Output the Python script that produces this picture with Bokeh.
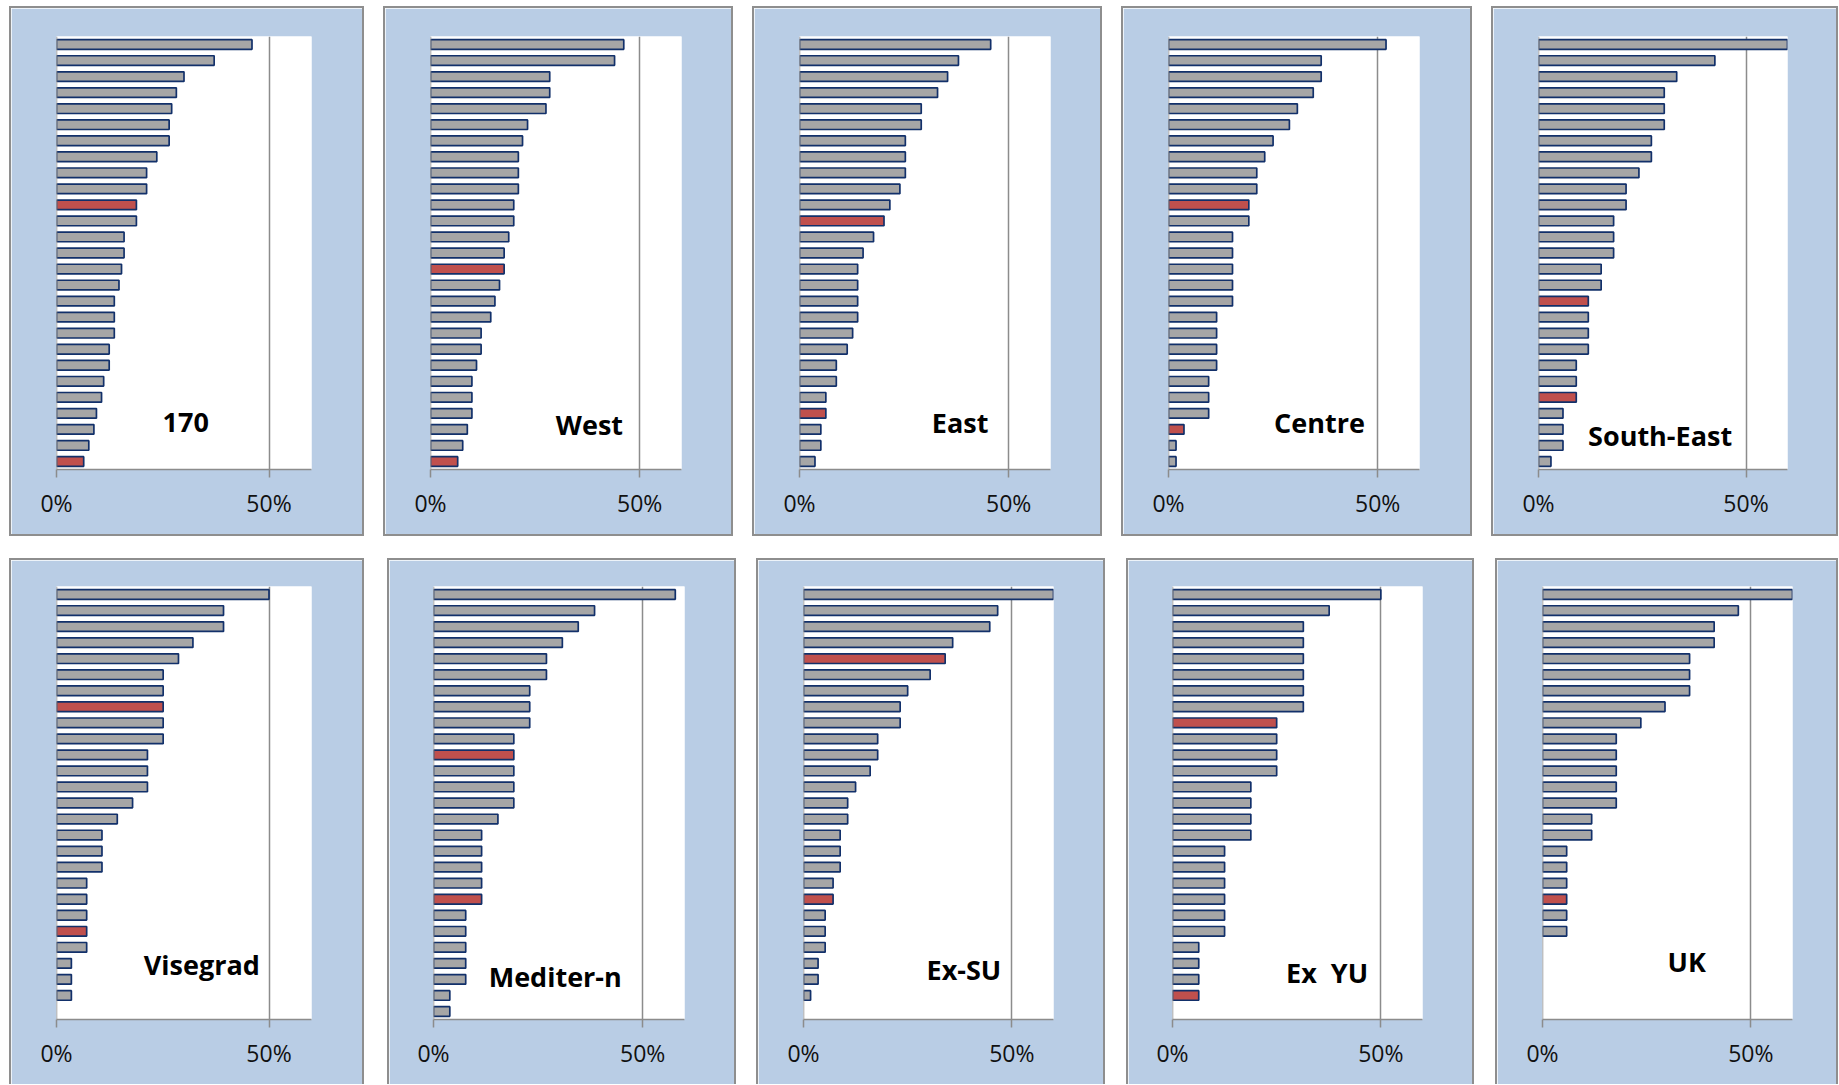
from bokeh.plotting import figure
from bokeh.models import Range1d, FixedTicker, Span, Label, ColumnDataSource, Spacer
from bokeh.layouts import row, column
from bokeh.embed import file_html
from bokeh.resources import INLINE

# ---------------- data (share, %), one bar per slot, top to bottom ----------------
panel_names = ["170", "West", "East", "Centre", "South-East",
               "Visegrad", "Mediter-n", "Ex-SU", "Ex\u00a0 YU", "UK"]

vals_170 = [46.0, 37.1, 30.0, 28.2, 27.1, 26.5, 26.5, 23.6, 21.2, 21.2, 18.8, 18.8, 15.9, 15.9,
            15.3, 14.7, 13.6, 13.6, 13.6, 12.4, 12.4, 11.1, 10.6, 9.4, 8.8, 7.6, 6.4]
vals_west = [46.2, 44.0, 28.5, 28.5, 27.6, 23.2, 22.0, 21.0, 21.0, 21.0, 19.9, 19.9, 18.7, 17.6,
             17.6, 16.5, 15.4, 14.4, 12.1, 12.1, 11.0, 9.9, 9.9, 9.9, 8.8, 7.7, 6.5]
vals_east = [45.7, 38.0, 35.4, 33.0, 29.1, 29.1, 25.3, 25.3, 25.3, 24.0, 21.6, 20.2, 17.7, 15.2,
             13.9, 13.9, 13.9, 13.9, 12.7, 11.4, 8.8, 8.8, 6.3, 6.3, 5.1, 5.1, 3.7]
vals_centre = [52.0, 36.5, 36.5, 34.6, 30.8, 28.9, 25.0, 23.0, 21.1, 21.1, 19.2, 19.2, 15.3, 15.3,
               15.3, 15.3, 15.3, 11.5, 11.5, 11.5, 11.5, 9.6, 9.6, 9.6, 3.7, 1.8, 1.8]
vals_southeast = [60.3, 42.5, 33.3, 30.3, 30.3, 30.3, 27.2, 27.2, 24.2, 21.1, 21.1, 18.1, 18.1, 18.1,
                  15.1, 15.1, 12.0, 12.0, 12.0, 12.0, 9.1, 9.1, 9.1, 5.9, 5.9, 5.9, 3.0]
vals_visegrad = [50.0, 39.3, 39.3, 32.1, 28.7, 25.1, 25.1, 25.1, 25.1, 25.1, 21.4, 21.4, 21.4, 17.9,
                 14.3, 10.7, 10.7, 10.7, 7.1, 7.1, 7.1, 7.1, 7.1, 3.5, 3.5, 3.5]
vals_mediter = [57.8, 38.5, 34.6, 30.8, 27.0, 27.0, 23.0, 23.0, 23.0, 19.2, 19.2, 19.2, 19.2, 19.2,
                15.4, 11.5, 11.5, 11.5, 11.5, 11.5, 7.7, 7.7, 7.7, 7.7, 7.7, 3.9, 3.9]
vals_exsu = [62.0, 46.6, 44.7, 35.8, 34.0, 30.4, 25.0, 23.2, 23.2, 17.8, 17.8, 16.0, 12.5, 10.6,
             10.6, 8.8, 8.8, 8.8, 7.1, 7.1, 5.2, 5.2, 5.2, 3.5, 3.5, 1.7]
vals_exyu = [50.0, 37.6, 31.4, 31.4, 31.4, 31.4, 31.4, 31.4, 25.0, 25.0, 25.0, 25.0, 18.8, 18.8,
             18.8, 18.8, 12.5, 12.5, 12.5, 12.5, 12.5, 12.5, 6.3, 6.3, 6.3, 6.3]
vals_uk = [62.0, 47.0, 41.2, 41.2, 35.3, 35.3, 35.3, 29.4, 23.6, 17.7, 17.7, 17.7, 17.7, 17.7,
           11.8, 11.8, 5.8, 5.8, 5.8, 5.8, 5.8, 5.8]

# positions (0-based, from top) of the highlighted (red) bars
red_170 = [10, 26]
red_west = [14, 26]
red_east = [11, 23]
red_centre = [10, 24]
red_southeast = [16, 22]
red_visegrad = [7, 21]
red_mediter = [10, 19]
red_exsu = [4, 19]
red_exyu = [8, 25]
red_uk = [19]

tick_values = [0, 50]
tick_labels = ["0%", "50%"]

all_vals = [vals_170, vals_west, vals_east, vals_centre, vals_southeast,
            vals_visegrad, vals_mediter, vals_exsu, vals_exyu, vals_uk]
all_reds = [red_170, red_west, red_east, red_centre, red_southeast,
            red_visegrad, red_mediter, red_exsu, red_exyu, red_uk]

# ---------------- styling / layout ----------------
N_SLOTS = 27
PANEL_BG = "#B9CDE5"
GRAY = "#A6A6A6"
RED = "#C0504D"
NAVY = "#12306A"
AXIS_GRAY = "#8C8C8C"
BORDER_GRAY = "#8E8E8E"
BW = 2  # panel border width

# (outer panel width, frame left offset, frame width)
top_geo = [(355, 47, 255), (350, 47, 251), (350, 47, 251), (351, 47, 251), (347, 47, 249)]
bot_geo = [(355, 47, 255), (349, 46, 251), (349, 47, 250), (348, 46, 250), (343, 47, 250)]
top_gaps = [19, 19, 19, 19]
bot_gaps = [23, 20, 21, 21]
TOP_H, BOT_H = 530, 526
TOP_FRAME_TOP, BOT_FRAME_TOP, FRAME_H = 30, 28, 433

# label anchor in data units (x in %, y in slots)
label_pos = [(30.4, 23.6), (38.0, 23.7), (38.4, 23.6), (36.1, 23.6), (29.3, 24.4),
             (34.2, 23.1), (29.1, 23.8), (38.5, 23.4), (37.1, 23.6), (34.6, 22.9)]


def edge(w, h):
    return Spacer(width=w, height=h, styles={"background-color": BORDER_GRAY})


def make_panel(i, geo, outer_h, frame_top, bottom_border):
    outer_w, left, fw = geo
    w = outer_w - 2 * BW
    h = outer_h - BW - (BW if bottom_border else 0)
    ft = frame_top - BW
    fl = left - BW
    vals = all_vals[i]
    reds = all_reds[i]
    p = figure(width=w, height=h,
               x_range=Range1d(0, 60), y_range=Range1d(N_SLOTS - 0.5, -0.5),
               output_backend="svg", toolbar_location=None,
               y_axis_location=None,
               min_border_left=fl, min_border_right=w - fl - fw,
               min_border_top=ft, min_border_bottom=h - ft - FRAME_H)
    p.border_fill_color = PANEL_BG
    p.background_fill_color = "white"
    p.outline_line_color = None

    ys = list(range(len(vals)))
    colors = [RED if k in reds else GRAY for k in ys]
    src = ColumnDataSource(dict(y=ys, right=vals, color=colors))
    p.hbar(y="y", left=0, right="right", height=0.6, source=src,
           fill_color="color", line_color=NAVY, line_width=1.7)

    p.add_layout(Span(location=0, dimension="height", line_color=AXIS_GRAY, line_width=1.5))

    ax = p.xaxis[0]
    ax.ticker = FixedTicker(ticks=tick_values)
    ax.major_label_overrides = {v: t for v, t in zip(tick_values, tick_labels)}
    ax.minor_tick_line_color = None
    ax.major_tick_in = 0
    ax.major_tick_out = 8
    ax.major_tick_line_color = AXIS_GRAY
    ax.major_tick_line_width = 1.5
    ax.axis_line_color = AXIS_GRAY
    ax.axis_line_width = 1.5
    ax.major_label_standoff = 9
    ax.major_label_text_font = "Open Sans"
    ax.major_label_text_font_size = "23px"
    ax.major_label_text_color = "#111111"

    p.xgrid.ticker = FixedTicker(ticks=[50])
    p.xgrid.grid_line_color = AXIS_GRAY
    p.xgrid.grid_line_width = 1.5
    p.ygrid.grid_line_color = None

    lx, ly = label_pos[i]
    p.add_layout(Label(x=lx, y=ly, text=panel_names[i], text_font="Open Sans",
                       text_font_style="bold", text_font_size="27px", text_color="black",
                       text_align="center", text_baseline="middle"))

    parts = [edge(outer_w, BW), row(edge(BW, h), p, edge(BW, h))]
    if bottom_border:
        parts.append(edge(outer_w, BW))
    return column(*parts)


top_items = [Spacer(width=9, height=TOP_H)]
for j in range(5):
    if j > 0:
        top_items.append(Spacer(width=top_gaps[j - 1], height=TOP_H))
    top_items.append(make_panel(j, top_geo[j], TOP_H, TOP_FRAME_TOP, True))

bot_items = [Spacer(width=9, height=BOT_H)]
for j in range(5):
    if j > 0:
        bot_items.append(Spacer(width=bot_gaps[j - 1], height=BOT_H))
    bot_items.append(make_panel(5 + j, bot_geo[j], BOT_H, BOT_FRAME_TOP, False))

layout = column(Spacer(width=10, height=6), row(*top_items),
                Spacer(width=10, height=22), row(*bot_items))

open("out.html", "w").write(file_html(layout, INLINE))
